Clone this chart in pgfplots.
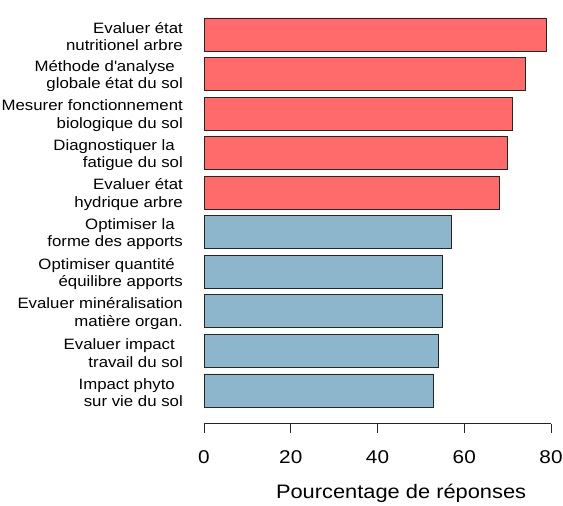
\documentclass[border=0pt]{standalone}
\usepackage{pgfplots}
\pgfplotsset{compat=1.18}
\usepackage{fontspec}
\setmainfont{Liberation Sans}[FakeStretch=1.12]
\definecolor{barred}{HTML}{FF6A6A}
\definecolor{barblue}{HTML}{8DB6CD}
\newcommand{\tsp}{\makebox[8bp]{}}
\begin{document}
\begin{tikzpicture}[x=1bp,y=1bp]
\useasboundingbox (0,0) rectangle (563,506);
\begin{axis}[
  at={(204bp,82bp)}, anchor=south west,
  scale only axis, width=347bp, height=409.3bp,
  xmin=0, xmax=80, ymin=0.153, ymax=10.5,
  xbar, bar width=0.834,
  axis x line*=bottom, axis y line*=left,
  x axis line style={-, line width=1bp, draw=black!85},
  y axis line style={draw=none},
  xtick={0,20,40,60,80}, ytick={1,...,10},
  tick align=outside, major tick length=9bp,
  xtick style={line width=1bp, draw=black!85},
  ytick style={draw=none},
  /pgf/number format/assume math mode=true,
  xticklabel style={font=\fontsize{18.5bp}{20bp}\selectfont, inner sep=0pt, anchor=north, yshift=-17bp},
  yticklabel style={font=\fontsize{15bp}{17.5bp}\selectfont, align=right, inner sep=0pt, anchor=east, xshift=-12bp, yshift=-2bp},
  yticklabels={
    {Impact phyto\tsp\\sur vie du sol},
    {Evaluer impact\tsp\\travail du sol},
    {Evaluer minéralisation\\matière organ.},
    {Optimiser quantité\tsp\\équilibre apports},
    {Optimiser la\tsp\\forme des apports},
    {Evaluer état\\hydrique arbre},
    {Diagnostiquer la\tsp\\fatigue du sol},
    {Mesurer fonctionnement\\biologique du sol},
    {Méthode d\textquotesingle analyse\tsp\\globale état du sol},
    {Evaluer état\\nutritionel arbre}},
  xlabel={Pourcentage de réponses},
  xlabel style={font=\fontsize{19.5bp}{22bp}\selectfont, at={(axis description cs:0.568,-0.1686)}, anchor=center},
]
\addplot[bar shift=0pt, fill=barblue, draw=black!85, line width=0.9bp]
  coordinates {(53,1) (54,2) (55,3) (55,4) (57,5)};
\addplot[bar shift=0pt, fill=barred, draw=black!85, line width=0.9bp]
  coordinates {(68,6) (70,7) (71,8) (74,9) (79,10)};
\end{axis}
\end{tikzpicture}
\end{document}
